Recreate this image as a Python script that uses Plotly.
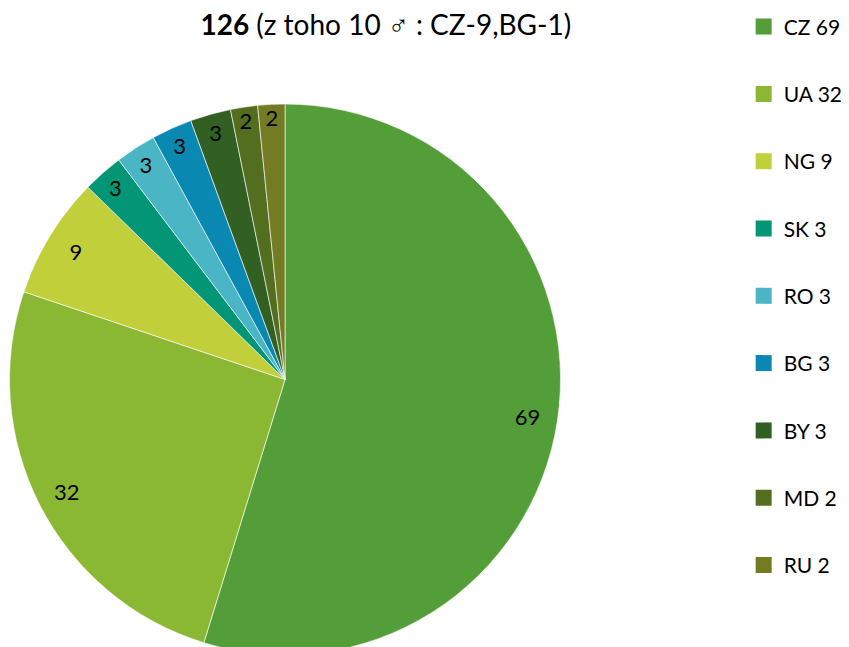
import plotly.graph_objects as go

labels = ["CZ", "UA", "NG", "SK", "RO", "BG", "BY", "MD", "RU"]
values = [69, 32, 9, 3, 3, 3, 3, 2, 2]
colors = ["#549E39", "#8AB833", "#C0CF3A", "#029676", "#4AB5C4",
          "#0989B1", "#325F22", "#536E1F", "#737C23"]
title_bold = "126"
title_rest = " (z toho 10 ♂ : CZ-9,BG-1)"

FONT = "Lato"
DOMAIN = dict(x=[0.0018, 0.6508], y=[0, 1])

fig = go.Figure()
# filled slices
fig.add_trace(go.Pie(
    labels=labels, values=values, sort=False, direction="clockwise", rotation=0,
    marker=dict(colors=colors, line=dict(color="rgba(255,255,255,0.6)", width=1)),
    textinfo="none", showlegend=False, domain=DOMAIN,
    hoverinfo="label+value",
))
# transparent ring carrying the value labels near the outer edge
fig.add_trace(go.Pie(
    labels=labels, values=values, sort=False, direction="clockwise", rotation=0,
    hole=0.78,
    marker=dict(colors=["rgba(0,0,0,0)"] * len(values), line=dict(width=0)),
    textinfo="value", textposition="inside", insidetextorientation="horizontal",
    textfont=dict(family=FONT, size=22, color="black"),
    showlegend=False, domain=DOMAIN, hoverinfo="skip",
))

for i, (lab, val, col) in enumerate(zip(labels, values, colors)):
    fig.add_trace(go.Scatter(
        x=[None], y=[None], mode="markers", name=f"{lab} {val}",
        marker=dict(symbol="square", size=16, color=col),
        legendgroup=f"g{i}", showlegend=True,
    ))

fig.update_layout(
    width=849, height=647,
    margin=dict(l=0, r=0, t=96, b=0, autoexpand=False),
    paper_bgcolor="white", plot_bgcolor="white",
    font=dict(family=FONT, color="black"),
    uniformtext=dict(minsize=22, mode="show"),
    title=dict(text=f"<b>{title_bold}</b>{title_rest}", x=0.445, xanchor="center",
               y=1 - 7 / 647, yref="container", yanchor="top", pad=dict(t=0, b=0),
               font=dict(family=FONT, size=28, color="black")),
    xaxis=dict(visible=False), yaxis=dict(visible=False),
    legend=dict(x=0.8665, xanchor="left", y=1.177, yref="paper", yanchor="top",
                font=dict(family=FONT, size=21, color="black"),
                tracegroupgap=37, itemwidth=30, bgcolor="rgba(0,0,0,0)",
                maxheight=700),
)

fig.write_html("out.html")
